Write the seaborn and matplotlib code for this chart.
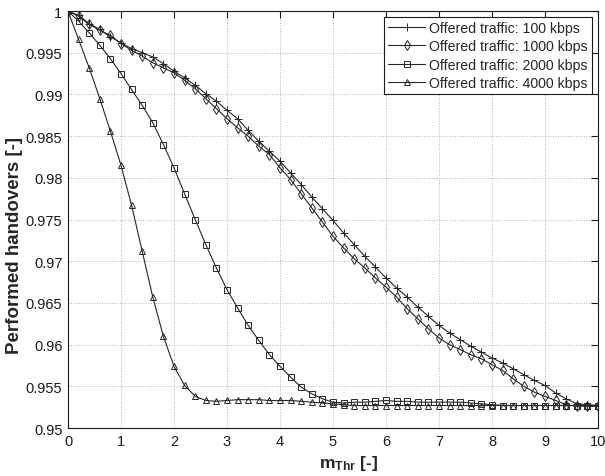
import pandas as pd
import matplotlib
matplotlib.use("Agg")
import matplotlib.pyplot as plt
import seaborn as sns
from matplotlib.ticker import FuncFormatter, MultipleLocator

# x grid (m_Thr)
m_thr = [0.0, 0.2, 0.4, 0.6, 0.8, 1.0, 1.2, 1.4, 1.6, 1.8,
         2.0, 2.2, 2.4, 2.6, 2.8, 3.0, 3.2, 3.4, 3.6, 3.8,
         4.0, 4.2, 4.4, 4.6, 4.8, 5.0, 5.2, 5.4, 5.6, 5.8,
         6.0, 6.2, 6.4, 6.6, 6.8, 7.0, 7.2, 7.4, 7.6, 7.8,
         8.0, 8.2, 8.4, 8.6, 8.8, 9.0, 9.2, 9.4, 9.6, 9.8, 10.0]

traffic_100 = [1.0, 0.9995, 0.9985, 0.9978, 0.9969, 0.9962, 0.9955, 0.9950, 0.9945, 0.9937,
               0.9928, 0.9920, 0.9911, 0.9901, 0.9892, 0.9881, 0.9871, 0.9857, 0.9844, 0.9832,
               0.9820, 0.9806, 0.9792, 0.9777, 0.9763, 0.9749, 0.9734, 0.9720, 0.9706, 0.9693,
               0.9680, 0.9668, 0.9657, 0.9645, 0.9634, 0.9623, 0.9614, 0.9606, 0.9598, 0.9591,
               0.9584, 0.9578, 0.9571, 0.9564, 0.9557, 0.9551, 0.9542, 0.9535, 0.9529, 0.9528, 0.9527]

traffic_1000 = [1.0, 0.9994, 0.9984, 0.9977, 0.9971, 0.9961, 0.9953, 0.9946, 0.9938, 0.9932,
                0.9926, 0.9917, 0.9907, 0.9895, 0.9883, 0.9871, 0.9860, 0.9850, 0.9838, 0.9828,
                0.9812, 0.9798, 0.9781, 0.9764, 0.9747, 0.9730, 0.9716, 0.9703, 0.9692, 0.9680,
                0.9669, 0.9657, 0.9643, 0.9631, 0.9619, 0.9608, 0.9600, 0.9594, 0.9588, 0.9583,
                0.9576, 0.9569, 0.9559, 0.9550, 0.9543, 0.9538, 0.9533, 0.9528, 0.9526, 0.9527, 0.9526]

traffic_2000 = [1.0, 0.9988, 0.9974, 0.9959, 0.9943, 0.9925, 0.9906, 0.9887, 0.9866, 0.9840,
                0.9812, 0.9781, 0.9750, 0.9720, 0.9692, 0.9666, 0.9644, 0.9623, 0.9605, 0.9588,
                0.9574, 0.9561, 0.9549, 0.9541, 0.9535, 0.9531, 0.9530, 0.9531, 0.9531, 0.9532,
                0.9533, 0.9532, 0.9532, 0.9531, 0.9531, 0.9531, 0.9531, 0.9531, 0.9530, 0.9529,
                0.9528, 0.9527, 0.9527, 0.9527, 0.9527, 0.9527, 0.9527, 0.9527, 0.9527, 0.9526, 0.9526]

traffic_4000 = [1.0, 0.9966, 0.9932, 0.9895, 0.9856, 0.9815, 0.9767, 0.9712, 0.9657, 0.9610,
                0.9574, 0.9551, 0.9538, 0.9533, 0.9532, 0.9533, 0.9534, 0.9534, 0.9534, 0.9533,
                0.9533, 0.9533, 0.9532, 0.9531, 0.9530, 0.9529, 0.9528, 0.9527, 0.9527, 0.9527,
                0.9527, 0.9527, 0.9527, 0.9527, 0.9527, 0.9527, 0.9527, 0.9527, 0.9527, 0.9527,
                0.9527, 0.9527, 0.9527, 0.9527, 0.9527, 0.9527, 0.9527, 0.9527, 0.9527, 0.9527, 0.9527]

labels = ["Offered traffic: 100 kbps", "Offered traffic: 1000 kbps",
          "Offered traffic: 2000 kbps", "Offered traffic: 4000 kbps"]
series = [traffic_100, traffic_1000, traffic_2000, traffic_4000]
markers = ["+", "d", "s", "^"]

sns.set_style("white")
plt.rcParams['font.family'] = ['Liberation Sans', 'DejaVu Sans']
plt.rcParams['mathtext.fontset'] = 'custom'
plt.rcParams['mathtext.rm'] = 'Liberation Sans'
plt.rcParams['mathtext.bf'] = 'Liberation Sans:bold'

fig = plt.figure(figsize=(6.05, 4.77), dpi=100)
ax = fig.add_axes([0.1124, 0.1006, 0.876, 0.874])

line_col = "#262626"
for lab, vals, mk in zip(labels, series, markers):
    df = pd.DataFrame({"m": m_thr, "ho": vals})
    sns.lineplot(data=df, x="m", y="ho", ax=ax, color=line_col, linewidth=0.8,
                 marker=mk, markersize=5 if mk != "+" else 6,
                 markerfacecolor="none", markeredgecolor=line_col,
                 markeredgewidth=0.7, label=lab)

ax.set_xlim(0, 10)
ax.set_ylim(0.95, 1.0)
ax.xaxis.set_major_locator(MultipleLocator(1))
ax.yaxis.set_major_locator(MultipleLocator(0.005))
ax.yaxis.set_major_formatter(FuncFormatter(lambda v, p: f"{v:g}"))
ax.tick_params(direction="in", length=5, width=0.8, top=True, right=True,
               labelsize=10.5, colors="#1a1a1a", pad=4)
ax.grid(True, linestyle=":", linewidth=0.7, color="#b0b0b0")
for s in ax.spines.values():
    s.set_color("#1a1a1a")
    s.set_linewidth(0.8)

ax.set_xlabel(r"$\mathbf{m_{Thr}}$ [-]", fontsize=12.5, fontweight="bold")
ax.set_ylabel("Performed handovers [-]", fontsize=13.5, fontweight="bold")
ax.xaxis.set_label_coords(0.53, -0.06)
ax.yaxis.set_label_coords(-0.084, 0.44)

leg = ax.legend(loc="upper right", fontsize=10.2, frameon=True, fancybox=False,
                edgecolor="#1a1a1a", framealpha=1, handlelength=2.6,
                borderpad=0.3, labelspacing=0.3, handletextpad=0.3,
                borderaxespad=0.4)
leg.get_frame().set_linewidth(0.8)

fig.savefig("out.png", dpi=100)
